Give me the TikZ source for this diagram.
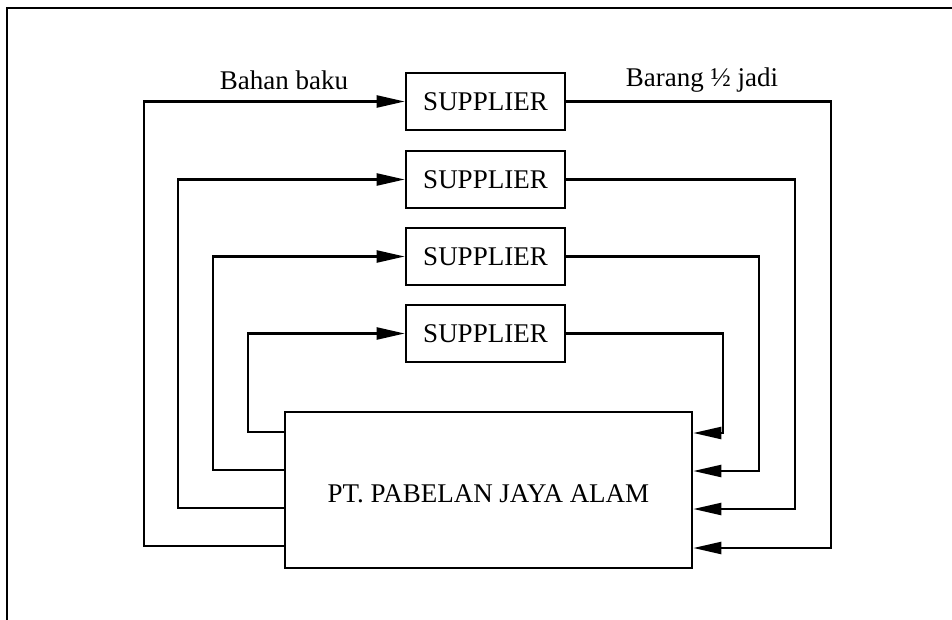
\documentclass[tikz,border=0pt]{standalone}
\usepackage{fontspec}
\setmainfont{Liberation Serif}
\usetikzlibrary{arrows.meta}
\begin{document}
\begin{tikzpicture}[x=1pt,y=-1pt,
  every node/.style={font=\fontsize{27}{31}\selectfont},
  supbox/.style={draw,line width=2.6pt,minimum width=159pt,minimum height=57pt,inner sep=0pt},
  mainbox/.style={draw,line width=2.6pt,minimum width=407pt,minimum height=156pt,inner sep=0pt},
  flow/.style={line width=2.3pt},
  arr/.style={flow,-{Triangle[length=28pt,width=12pt]}}]
\useasboundingbox (0,0) rectangle (952,620);
% frame
\draw[line width=1.8pt] (7,620) -- (7,8) -- (952,8);
% nodes
\node[supbox] (s1) at (485.5,101.5) {SUPPLIER};
\node[supbox] (s2) at (485.5,179.5) {SUPPLIER};
\node[supbox] (s3) at (485.5,256.5) {SUPPLIER};
\node[supbox] (s4) at (485.5,333.5) {SUPPLIER};
\node[mainbox] (m) at (488.5,490) {};
\node (mt) at (488.5,494) {PT. PABELAN JAYA ALAM};
\node (bb) at (284,80) {Bahan baku};
\node (bj) at (702,80) {Barang ½ jadi};
% exit/entry points on main box
\coordinate (L4) at (m.west |- 0,432);
\coordinate (L3) at (m.west |- 0,470);
\coordinate (L2) at (m.west |- 0,508);
\coordinate (L1) at (m.west |- 0,546);
\coordinate (R4) at (m.east |- 0,433);
\coordinate (R3) at (m.east |- 0,471);
\coordinate (R2) at (m.east |- 0,509);
\coordinate (R1) at (m.east |- 0,548);
% raw material flows
\draw[arr] (L1) -- (144,546) |- (s1.west);
\draw[arr] (L2) -- (178,508) |- (s2.west);
\draw[arr] (L3) -- (213,470) |- (s3.west);
\draw[arr] (L4) -- (248,432) |- (s4.west);
% semi-finished flows
\draw[arr] (s1.east) -- (831,101.5) |- (R1);
\draw[arr] (s2.east) -- (795,179.5) |- (R2);
\draw[arr] (s3.east) -- (759,256.5) |- (R3);
\draw[arr] (s4.east) -- (723,333.5) |- (R4);
\end{tikzpicture}
\end{document}
